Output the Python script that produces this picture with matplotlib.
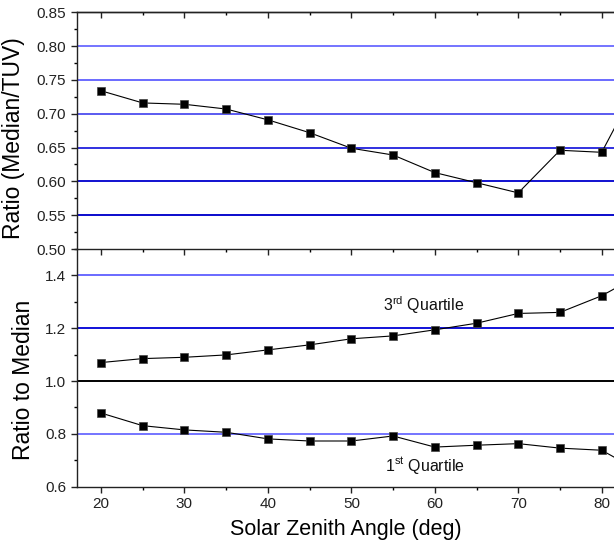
import matplotlib
matplotlib.use("Agg")
import matplotlib.pyplot as plt
from matplotlib.ticker import MultipleLocator, FormatStrFormatter

plt.rcParams["font.family"] = ["Liberation Sans", "DejaVu Sans"]
plt.rcParams["mathtext.fontset"] = "custom"
plt.rcParams["mathtext.rm"] = "Liberation Sans"

# solar zenith angle (deg); the last point lies past the cropped right edge
sza = [20, 25, 30, 35, 40, 45, 50, 55, 60, 65, 70, 75, 80, 85]
ratio_median = [0.734, 0.716, 0.714, 0.707, 0.691, 0.672, 0.649, 0.639,
                0.613, 0.598, 0.583, 0.646, 0.643, 0.76]
q3_ratio = [1.070, 1.085, 1.090, 1.099, 1.118, 1.137, 1.160, 1.171,
            1.194, 1.219, 1.256, 1.260, 1.323, 1.41]
q1_ratio = [0.879, 0.831, 0.815, 0.806, 0.781, 0.773, 0.773, 0.792,
            0.750, 0.757, 0.763, 0.746, 0.738, 0.65]

top_grid = [(0.80, "#7474ff"), (0.75, "#6a6aff"), (0.70, "#5a5af0"),
            (0.65, "#3030e0"), (0.60, "#1010d0"), (0.55, "#0a0acc")]
bot_grid = [(1.4, "#6a6aff"), (1.2, "#1010d8"), (1.0, "black"), (0.8, "#7474ff")]

fig = plt.figure(figsize=(6.14, 5.45), dpi=100)
ax1 = fig.add_axes([0.1249, 0.5431, 0.8751, 0.4343])
ax2 = fig.add_axes([0.1249, 0.1070, 0.8751, 0.4361])
ax1.set_zorder(3)
ax1.patch.set_alpha(0)

for y, c in top_grid:
    ax1.axhline(y, color=c, lw=1.4, zorder=1)
for y, c in bot_grid:
    ax2.axhline(y, color=c, lw=1.4, zorder=1)

mk = dict(color="black", lw=0.8, marker="s", markersize=5.8,
          markerfacecolor="black", markeredgecolor="#444444",
          markeredgewidth=0.5, zorder=3)
ax1.plot(sza, ratio_median, **mk)
ax2.plot(sza, q3_ratio, **mk)
ax2.plot(sza, q1_ratio, **mk)

ax1.set_xlim(17.09, 81.47)
ax2.set_xlim(17.09, 81.47)
ax1.set_ylim(0.50, 0.85)
ax2.set_ylim(0.6, 1.5)

for ax in (ax1, ax2):
    ax.spines["right"].set_visible(False)
    for s in ax.spines.values():
        s.set_linewidth(1.0)
        s.set_color("#222222")
    ax.xaxis.set_major_locator(MultipleLocator(10))
    ax.xaxis.set_minor_locator(MultipleLocator(5))
    ax.tick_params(axis="both", which="major", direction="out", length=4,
                   width=1.0, labelsize=11, colors="#222222")
    ax.tick_params(axis="both", which="minor", direction="out", length=2.5,
                   width=1.0)

ax1.yaxis.set_major_locator(MultipleLocator(0.05))
ax1.yaxis.set_minor_locator(MultipleLocator(0.025))
ax1.yaxis.set_major_formatter(FormatStrFormatter("%.2f"))
ax1.tick_params(axis="x", which="both", labelbottom=False, top=False, bottom=True)

# top axis of the upper panel: ticks pointing inwards, no labels
top = ax1.secondary_xaxis("top")
top.xaxis.set_major_locator(MultipleLocator(10))
top.xaxis.set_minor_locator(MultipleLocator(5))
top.tick_params(axis="x", which="major", direction="in", length=4, width=1.0,
                labeltop=False, colors="#222222")
top.tick_params(axis="x", which="minor", direction="in", length=2.5, width=1.0)
top.spines["top"].set_linewidth(1.0)
top.spines["top"].set_color("#222222")

ax2.spines["top"].set_visible(False)
ax2.set_yticks([0.6, 0.8, 1.0, 1.2, 1.4])
ax2.yaxis.set_minor_locator(MultipleLocator(0.1))
ax2.yaxis.set_major_formatter(FormatStrFormatter("%.1f"))

ax1.set_ylabel("Ratio (Median/TUV)", fontsize=16.5)
ax2.set_ylabel("Ratio to Median", fontsize=16.5)
ax1.yaxis.set_label_coords(-0.097, 0.47)
ax2.yaxis.set_label_coords(-0.078, 0.45)
ax2.set_xlabel("Solar Zenith Angle (deg)", fontsize=15.5, labelpad=6)

ax2.text(58.6, 1.289, r"3$^{\mathrm{rd}}$ Quartile", ha="center", va="center",
         fontsize=11.5, color="#111111")
ax2.text(58.8, 0.682, r"1$^{\mathrm{st}}$ Quartile", ha="center", va="center",
         fontsize=11.5, color="#111111")

fig.savefig("out.png", dpi=100)
